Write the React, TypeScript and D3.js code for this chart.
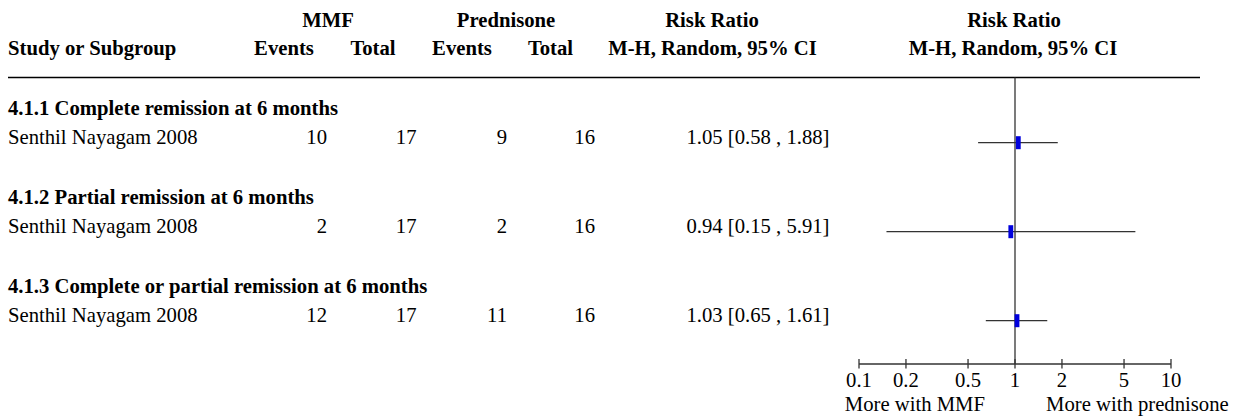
import React from "react";
import * as d3 from "d3";

const subgroups = [
  "4.1.1 Complete remission at 6 months",
  "4.1.2 Partial remission at 6 months",
  "4.1.3 Complete or partial remission at 6 months",
];
const studies = ["Senthil Nayagam 2008", "Senthil Nayagam 2008", "Senthil Nayagam 2008"];
const mmfEvents = [10, 2, 12];
const mmfTotal = [17, 17, 17];
const predEvents = [9, 2, 11];
const predTotal = [16, 16, 16];
const rr = [1.05, 0.94, 1.03];
const rrLo = [0.58, 0.15, 0.65];
const rrHi = [1.88, 5.91, 1.61];
const axisTicks = [0.1, 0.2, 0.5, 1, 2, 5, 10];
const leftLabel = "More with MMF";
const rightLabel = "More with prednisone";

const W = 1235;
const H = 417;
const FONT = "'Liberation Serif', 'Times New Roman', serif";
const FS = 20.7;
const LINE = "#333333";

export default function App() {
  const x = d3.scaleLog().domain([0.1, 10]).range([859, 1171]);
  const gy = d3.scaleLinear().domain([0, 1]).range([115, 204]);
  const fmt = d3.format(".2f");
  const axisY = 364;
  const topLineY = 77.5;

  const txt = (
    content: string | number,
    px: number,
    py: number,
    anchor: "start" | "middle" | "end",
    bold = false,
    key?: string
  ) => (
    <text
      key={key}
      x={px}
      y={py}
      textAnchor={anchor}
      fontWeight={bold ? "bold" : "normal"}
      fontFamily={FONT}
      fontSize={FS}
      fill="#000"
    >
      {content}
    </text>
  );

  return (
    <svg
      width={W}
      height={H}
      style={{ position: "absolute", left: 0, top: 0, background: "#fff" }}
    >
      {/* headers */}
      {txt("MMF", 328, 26.7, "middle", true)}
      {txt("Prednisone", 506, 26.7, "middle", true)}
      {txt("Risk Ratio", 712, 26.7, "middle", true)}
      {txt("Risk Ratio", 1014, 26.7, "middle", true)}
      {txt("Study or Subgroup", 8, 55, "start", true)}
      {txt("Events", 284, 55, "middle", true)}
      {txt("Total", 373, 55, "middle", true)}
      {txt("Events", 462, 55, "middle", true)}
      {txt("Total", 550.5, 55, "middle", true)}
      {txt("M-H, Random, 95% CI", 712.5, 55, "middle", true)}
      {txt("M-H, Random, 95% CI", 1013, 55, "middle", true)}
      <line x1={8} x2={1200} y1={topLineY} y2={topLineY} stroke="#000" strokeWidth={1.4} />

      {/* reference line at 1 */}
      <line x1={x(1)} x2={x(1)} y1={topLineY} y2={axisY} stroke={LINE} strokeWidth={1.3} />

      {subgroups.map((s, i) => {
        const yb = gy(i);
        const ys = yb + 29;
        const yc = ys - 1.3;
        return (
          <g key={i}>
            {txt(s, 8, yb, "start", true)}
            {txt(studies[i], 8, ys, "start")}
            {txt(mmfEvents[i], 327, ys, "end")}
            {txt(mmfTotal[i], 416.5, ys, "end")}
            {txt(predEvents[i], 507, ys, "end")}
            {txt(predTotal[i], 595, ys, "end")}
            {txt(`${fmt(rr[i])} [${fmt(rrLo[i])} , ${fmt(rrHi[i])}]`, 829.5, ys, "end")}
            <line x1={x(rrLo[i])} x2={x(rrHi[i])} y1={yc} y2={yc} stroke={LINE} strokeWidth={1.3} />
            <rect x={x(rr[i]) - 2.4} y={yc - 6.5} width={4.8} height={13} fill="#0000dd" />
          </g>
        );
      })}

      {/* axis */}
      <line x1={x(0.1)} x2={x(10)} y1={axisY} y2={axisY} stroke={LINE} strokeWidth={1.3} />
      {axisTicks.map((t) => (
        <g key={t}>
          <line x1={x(t)} x2={x(t)} y1={axisY - 5} y2={axisY + 4.5} stroke={LINE} strokeWidth={1.3} />
          {txt(String(t), x(t), 386.7, "middle", false)}
        </g>
      ))}
      {txt(leftLabel, 985, 411, "end")}
      {txt(rightLabel, 1046, 411, "start")}
    </svg>
  );
}
